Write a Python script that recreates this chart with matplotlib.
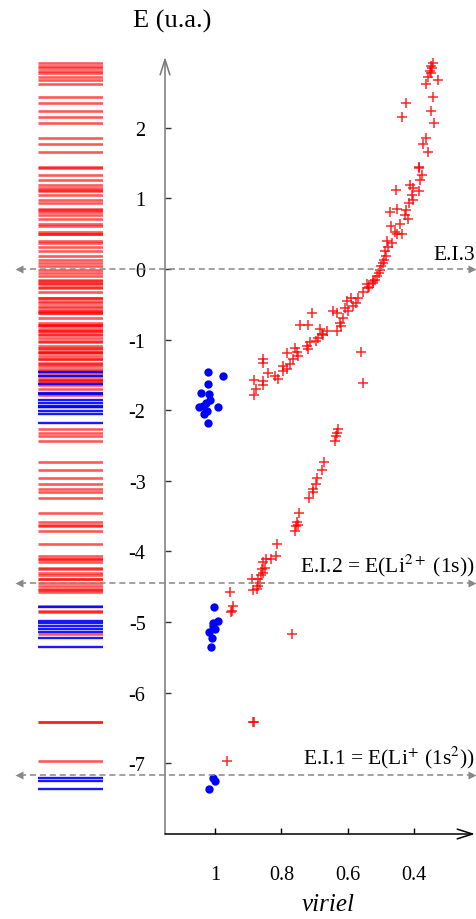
## Energy vs viriel scatter with projected level bar ##

import matplotlib
matplotlib.use('Agg')
import matplotlib.pyplot as plt

## Data ##

red_v = [0.343, 0.350, 0.347, 0.353, 0.349, 0.357, 0.327, 0.364, 0.342, 0.424, 0.349, 0.435, 0.339,
         0.365, 0.374, 0.357, 0.384, 0.386, 0.377, 0.382, 0.412, 0.402, 0.384, 0.454, 0.407, 0.402,
         0.414, 0.452, 0.473, 0.424, 0.427, 0.417, 0.442, 0.469, 0.457, 0.450, 0.436, 0.482, 0.467,
         0.477, 0.487, 0.484, 0.490, 0.494, 0.500, 0.503, 0.507, 0.512, 0.517, 0.543, 0.535, 0.523,
         0.523, 0.538, 0.555, 0.568, 0.591, 0.575, 0.601, 0.583, 0.608, 0.598, 0.643, 0.633, 0.707,
         0.613, 0.623, 0.619, 0.744, 0.719, 0.633, 0.683, 0.663, 0.678, 0.673, 0.690, 0.695, 0.714,
         0.724, 0.719, 0.759, 0.754, 0.784, 0.749, 0.764, 0.774, 0.854, 0.854, 0.794, 0.784, 0.794,
         0.839, 0.819, 0.809, 0.882, 0.854, 0.854, 0.876, 0.884, 0.560, 0.555,
         0.628, 0.633, 0.635, 0.639, 0.672, 0.678, 0.693, 0.695, 0.704, 0.706, 0.716, 0.746, 0.752,
         0.756, 0.749, 0.758, 0.812, 0.816, 0.832, 0.846, 0.854, 0.849, 0.859, 0.856, 0.862, 0.889,
         0.869, 0.864, 0.869, 0.874, 0.886, 0.955, 0.947, 0.950, 0.953, 0.769, 0.886, 0.884, 0.963]
red_E = [2.92, 2.87, 2.84, 2.80, 2.78, 2.72, 2.67, 2.62, 2.43, 2.35, 2.24, 2.15, 2.06,
         1.85, 1.77, 1.66, 1.44, 1.43, 1.33, 1.26, 1.19, 1.15, 1.11, 1.12, 1.05, 0.97,
         0.93, 0.85, 0.81, 0.84, 0.77, 0.71, 0.63, 0.61, 0.52, 0.49, 0.50, 0.39, 0.37,
         0.31, 0.26, 0.18, 0.13, 0.08, 0.04, -0.01, -0.06, -0.10, -0.15, -0.22, -0.25, -0.20,
         -0.17, -0.27, -0.33, -0.41, -0.41, -0.48, -0.46, -0.53, -0.55, -0.60, -0.60, -0.62, -0.63,
         -0.69, -0.76, -0.81, -0.79, -0.79, -0.88, -0.85, -0.88, -0.92, -0.94, -0.98, -1.02, -1.04,
         -1.09, -1.14, -1.12, -1.17, -1.19, -1.24, -1.28, -1.35, -1.28, -1.33, -1.38, -1.42, -1.45,
         -1.48, -1.52, -1.56, -1.57, -1.58, -1.64, -1.70, -1.79, -1.17, -1.61,
         -2.26, -2.32, -2.37, -2.44, -2.74, -2.85, -2.96, -3.04, -3.11, -3.16, -3.25, -3.45, -3.59,
         -3.64, -3.62, -3.71, -3.90, -4.07, -4.11, -4.10, -4.15, -4.23, -4.25, -4.30, -4.34, -4.39,
         -4.39, -4.44, -4.49, -4.53, -4.54, -4.58, -4.77, -4.84, -4.86, -5.17, -6.41, -6.42, -6.97]

blue_v = [1.020, 0.975, 1.020, 1.042, 1.019, 1.016, 1.027, 1.047, 1.035, 0.992, 1.025, 1.034, 1.020,
          1.002, 0.990, 1.005, 1.000, 1.017, 1.005, 1.010, 1.012,
          1.007, 1.000, 1.017]
blue_E = [-1.46, -1.52, -1.63, -1.75, -1.77, -1.86, -1.90, -1.95, -1.94, -1.96, -2.01, -2.06, -2.18,
          -4.78, -4.98, -5.01, -5.10, -5.14, -5.06, -5.23, -5.35,
          -7.21, -7.25, -7.36]

ei_levels = [0.0, -4.44, -7.17]
ei_labels = ['E.I.3', 'E.I.2 = E(Li$^{2+}$ (1s))', 'E.I.1 = E(Li$^{+}$ (1s$^{2}$))']

xticks = [1.0, 0.8, 0.6, 0.4]
xticklabels = ['1', '0.8', '0.6', '0.4']
yticks = [2, 1, 0, -1, -2, -3, -4, -5, -6, -7]

## Set pyplot parameters ##

plt.rcParams['font.family'] = ['Liberation Serif', 'DejaVu Serif']
plt.rcParams['mathtext.fontset'] = 'stix'
plt.rcParams['axes.unicode_minus'] = False

W, H = 477, 920
fig = plt.figure(figsize=(W / 100, H / 100), dpi=100)

def fx(px):
    return px / W

def fy(py):
    return 1 - py / H

## Main axes ##

ax = fig.add_axes([fx(165), fy(835), fx(475) - fx(165), fy(58) - fy(835)])
ax.set_xlim(1.151, 0.216)
ax.set_ylim(-8.0, 3.0)

ax.plot(red_v, red_E, '+', color='red', ms=6.5, mew=1.1, alpha=0.85, zorder=3)
ax.plot(blue_v, blue_E, 'o', color='blue', ms=6, mec='none', zorder=3)

for s in ['top', 'right', 'left', 'bottom']:
    ax.spines[s].set_visible(False)

ax.annotate('', xy=(0, 1), xytext=(0, 0), xycoords='axes fraction',
            arrowprops=dict(arrowstyle='->,head_length=1.1,head_width=0.35', lw=1.1,
                            color='#777777', shrinkA=0, shrinkB=0))
ax.annotate('', xy=(1, 0), xytext=(0, 0), xycoords='axes fraction',
            arrowprops=dict(arrowstyle='->,head_length=1.1,head_width=0.35', lw=1.1,
                            color='black', shrinkA=0, shrinkB=0))

ax.set_xticks(xticks)
ax.set_xticklabels(xticklabels)
ax.set_yticks(yticks)
ax.set_yticklabels([str(t) for t in yticks])
ax.tick_params(axis='both', direction='in', length=4, width=1, labelsize=14.5)
ax.tick_params(axis='x', pad=22, colors='black')
ax.tick_params(axis='y', pad=14, color='#333333')

## Level bar ##

bar = fig.add_axes([fx(38), fy(835), fx(103) - fx(38), fy(58) - fy(835)], sharey=ax)
bar.axis('off')
bar.hlines(red_E, 0, 1, colors='red', lw=1.9, alpha=0.65)
bar.hlines(blue_E, 0, 1, colors='blue', lw=1.7, alpha=0.9)
bar.set_xlim(0, 1)

## Ionisation energy lines ##

for lev, lab in zip(ei_levels, ei_labels):
    py = ax.transData.transform((1.0, lev))[1]
    yy = py / H
    fig.add_artist(plt.Line2D([fx(20), fx(471)], [yy, yy], color='#888888', lw=1.1,
                              ls=(0, (4, 2.5))))
    fig.add_artist(plt.Line2D([fx(19)], [yy], marker='<', color='#888888', ms=6, mec='none'))
    fig.add_artist(plt.Line2D([fx(472)], [yy], marker='>', color='#888888', ms=6, mec='none'))
    fig.text(fx(475), yy + 5 / H, lab, ha='right', va='bottom', fontsize=15.5)

## Axis titles ##

fig.text(fx(172), fy(21), 'E (u.a.)', ha='center', va='center', fontsize=19)
fig.text(fx(328), fy(905), 'viriel', ha='center', va='center', fontsize=18, style='italic')

fig.savefig('out.png', dpi=100)
